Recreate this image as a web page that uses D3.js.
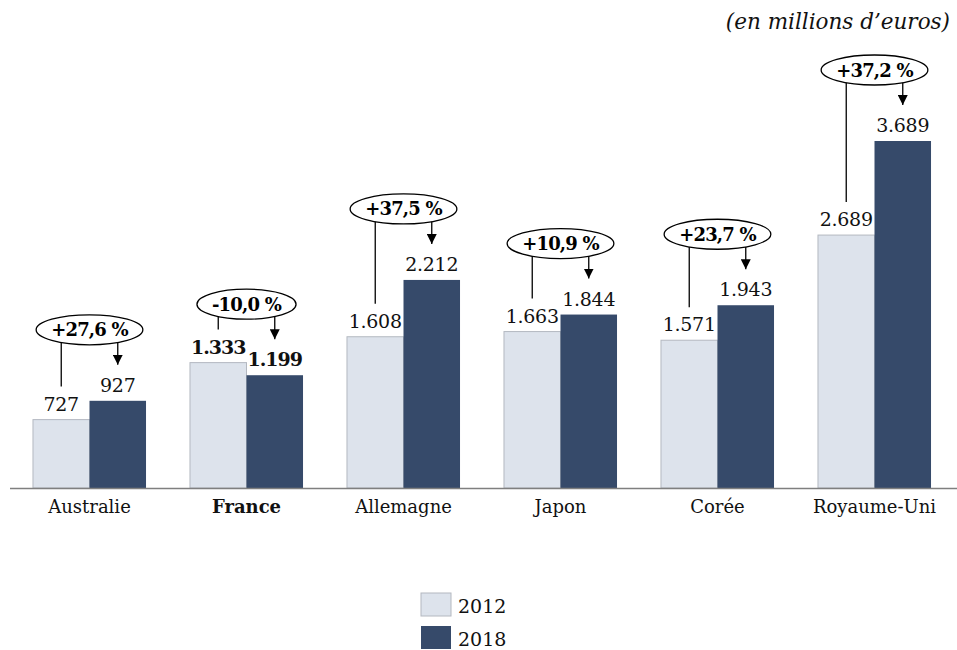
<!DOCTYPE html>
<html><head><meta charset="utf-8">
<script src="https://cdn.jsdelivr.net/npm/d3@7"></script>
<style>body{margin:0;background:#fff}svg{display:block}</style>
</head><body>
<svg id="c" width="957" height="650"></svg>
<script>
const categories = ["Australie","France","Allemagne","Japon","Corée","Royaume-Uni"];
const years = ["2012","2018"];
const values2012 = [727,1333,1608,1663,1571,2689];
const values2018 = [927,1199,2212,1844,1943,3689];
const labels2012 = ["727","1.333","1.608","1.663","1.571","2.689"];
const labels2018 = ["927","1.199","2.212","1.844","1.943","3.689"];
const changes = ["+27,6 %","-10,0 %","+37,5 %","+10,9 %","+23,7 %","+37,2 %"];
const boldCategory = "France";
const unitLabel = "(en millions d’euros)";

const FONT = "'DejaVu Serif', 'Liberation Serif', serif";
const colors = {"2012":"#dde3ec","2018":"#364a6a"};
const svg = d3.select("#c");

const x0 = d3.scaleBand().domain(categories).range([11, 953]).paddingInner(0.28).paddingOuter(0.14);
const x1 = d3.scaleBand().domain(years).range([0, x0.bandwidth()]);
const y = d3.scaleLinear().domain([0, 3689]).range([488, 141]);

svg.append("defs").append("marker").attr("id","arr").attr("viewBox","0 0 10 10")
  .attr("refX",10).attr("refY",5).attr("markerWidth",10).attr("markerHeight",10)
  .attr("markerUnits","userSpaceOnUse").attr("orient","auto")
  .append("path").attr("d","M0,0 L10,5 L0,10 z").attr("fill","#000");

svg.append("text").attr("x",950).attr("y",29).attr("text-anchor","end")
  .attr("font-family",FONT).attr("font-style","italic").attr("font-size",21.5).attr("fill","#111")
  .text(unitLabel);

const data = categories.map((c,i)=>({c, i, v:[values2012[i], values2018[i]], l:[labels2012[i], labels2018[i]], ch:changes[i]}));

const g = svg.append("g");
data.forEach(d=>{
  const bold = d.c === boldCategory;
  years.forEach((yr,k)=>{
    const bx = x0(d.c) + x1(yr);
    g.append("rect").attr("x",bx).attr("y",y(d.v[k])).attr("width",x1.bandwidth()).attr("height",y(0)-y(d.v[k]))
      .attr("fill",colors[yr]).attr("stroke", k===0?"#b3b8c0":"none").attr("stroke-width",1);
    g.append("text").attr("x",bx + x1.bandwidth()/2).attr("y",y(d.v[k])-9).attr("text-anchor","middle")
      .attr("font-family",FONT).attr("font-size",19).attr("font-weight",bold?"bold":"normal").attr("fill","#111")
      .attr("letter-spacing", bold ? -1 : -0.3)
      .text(d.l[k]);
  });
  const cx = x0(d.c) + x0.bandwidth()/2;
  const cy = y(d.v[1]) - 71;
  const ry = 15;
  const t = g.append("text").attr("x",cx).attr("y",cy+6.5).attr("text-anchor","middle")
    .attr("font-family",FONT).attr("font-size",18).attr("font-weight","bold").attr("fill","#000")
    .attr("letter-spacing",-0.8).text(d.ch);
  const w = t.node().getComputedTextLength();
  const rx = w/2 + 15;
  g.insert("ellipse","text").attr("cx",cx).attr("cy",cy).attr("rx",rx).attr("ry",ry)
    .attr("fill","#fff").attr("stroke","#000").attr("stroke-width",1.3);
  const lx = x0(d.c) + x1("2012") + x1.bandwidth()/2;
  const rx2 = x0(d.c) + x1("2018") + x1.bandwidth()/2;
  const yb = (xx)=> cy + ry*Math.sqrt(Math.max(0,1-Math.pow((xx-cx)/rx,2)));
  g.append("line").attr("x1",lx).attr("x2",lx).attr("y1",yb(lx)).attr("y2",y(d.v[0])-33)
    .attr("stroke","#000").attr("stroke-width",1.3);
  g.append("line").attr("x1",rx2).attr("x2",rx2).attr("y1",yb(rx2)).attr("y2",y(d.v[1])-36)
    .attr("stroke","#000").attr("stroke-width",1.3).attr("marker-end","url(#arr)");
});

const ax = svg.append("g").attr("transform",`translate(0,${y(0)})`)
  .call(d3.axisBottom(x0).tickSize(0).tickPadding(12));
ax.select(".domain").attr("d","M10,0.5H957").attr("stroke","#7f7f7f").attr("stroke-width",1.5);
ax.selectAll("text").attr("font-family",FONT).attr("font-size",18).attr("fill","#111")
  .attr("font-weight",d=>d===boldCategory?"bold":"normal");

const lg = svg.append("g").attr("transform","translate(421,593)");
years.forEach((yr,k)=>{
  lg.append("rect").attr("x",0).attr("y",k*33).attr("width",30).attr("height",23)
    .attr("fill",colors[yr]).attr("stroke",k===0?"#b3b8c0":"none");
  lg.append("text").attr("x",37).attr("y",k*33+20).attr("font-family",FONT).attr("font-size",19)
    .attr("fill","#111").text(yr);
});
</script>
</body></html>
